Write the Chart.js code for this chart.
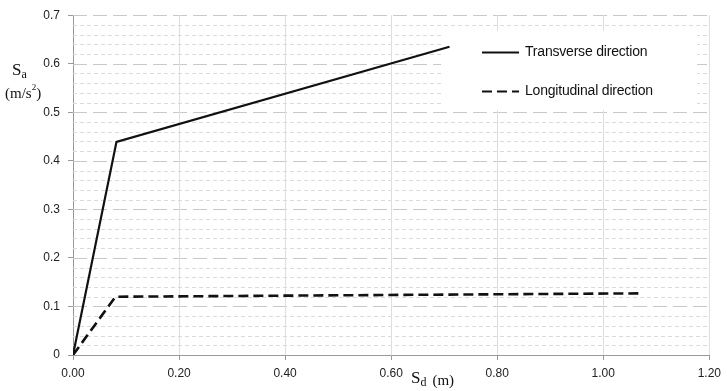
<!DOCTYPE html>
<html>
<head>
<meta charset="utf-8">
<script src="https://cdn.jsdelivr.net/npm/chart.js@4.4.0/dist/chart.umd.min.js"></script>
<style>
  html, body { margin: 0; padding: 0; background: #fff; }
  canvas { display: block; }
</style>
</head>
<body>
<canvas id="c" width="727" height="391"></canvas>
<script>
// Capacity curves: spectral displacement Sd (m) vs spectral acceleration Sa (m/s²)
const seriesNames = ['Transverse direction', 'Longitudinal direction'];
const transverseSd = [0, 0.082, 0.71];
const transverseSa = [0, 0.439, 0.635];
const longitudinalSd = [0, 0.08, 1.07];
const longitudinalSa = [0, 0.12, 0.127];
const xTicks = [0, 0.2, 0.4, 0.6, 0.8, 1.0, 1.2];
const yTicks = [0, 0.1, 0.2, 0.3, 0.4, 0.5, 0.6, 0.7];

const toPoints = (xs, ys) => xs.map((x, i) => ({ x, y: ys[i] }));

const TICK_FONT = { family: 'Liberation Sans, Arial, sans-serif', size: 12 };
const SERIF = 'Liberation Serif, "Times New Roman", serif';

// Dashed background grid: fine minor lines every 0.02, longer dashes every 0.1, verticals every 0.2
const gridPlugin = {
  id: 'dashGrid',
  beforeDatasetsDraw(chart) {
    const { ctx, chartArea: a, scales: { x, y } } = chart;
    ctx.save();
    ctx.lineWidth = 1;
    for (let k = 1; k <= 35; k++) {
      const v = k * 0.02;
      const py = Math.round(y.getPixelForValue(v)) + 0.5;
      const major = k % 5 === 0;
      ctx.strokeStyle = major ? '#c8c8c8' : '#dadada';
      ctx.setLineDash(major ? [14, 6] : [4, 3]);
      ctx.beginPath();
      ctx.moveTo(a.left, py);
      ctx.lineTo(a.right, py);
      ctx.stroke();
    }
    ctx.setLineDash([]);
    ctx.strokeStyle = '#dedede';
    xTicks.slice(1).forEach(v => {
      const px = Math.round(x.getPixelForValue(v)) + 0.5;
      ctx.beginPath();
      ctx.moveTo(px, a.top);
      ctx.lineTo(px, a.bottom);
      ctx.stroke();
    });

    // legend box (white, covers grid)
    ctx.fillStyle = '#fff';
    ctx.fillRect(441, 31, 256, 79);
    ctx.restore();
  }
};

// Legend entries drawn inside the plot area
const legendPlugin = {
  id: 'innerLegend',
  afterDatasetsDraw(chart) {
    const { ctx } = chart;
    ctx.save();
    const rows = [52, 91];
    chart.data.datasets.forEach((ds, i) => {
      const yy = rows[i] + 0.5;
      ctx.strokeStyle = '#111';
      ctx.lineWidth = 2;
      ctx.setLineDash(ds.borderDash || []);
      ctx.beginPath();
      ctx.moveTo(482, yy);
      ctx.lineTo(519, yy);
      ctx.stroke();
      ctx.setLineDash([]);
      ctx.fillStyle = '#111';
      ctx.font = '14px Liberation Sans, Arial, sans-serif';
      ctx.textBaseline = 'middle';
      ctx.textAlign = 'left';
      if ('letterSpacing' in ctx) ctx.letterSpacing = '-0.2px';
      ctx.fillText(ds.label, 525, rows[i]);
      if ('letterSpacing' in ctx) ctx.letterSpacing = '0px';
    });
    ctx.restore();
  }
};

// Axis titles with subscripts / superscripts
function drawRuns(ctx, x, runs) {
  runs.forEach(r => {
    ctx.font = r.size + 'px ' + SERIF;
    ctx.fillText(r.t, x, r.base);
    x += ctx.measureText(r.t).width + (r.gap || 0);
  });
}
const titlePlugin = {
  id: 'axisTitles',
  afterDraw(chart) {
    const { ctx } = chart;
    ctx.save();
    if ('letterSpacing' in ctx) ctx.letterSpacing = '0px';
    ctx.fillStyle = '#111';
    ctx.textBaseline = 'alphabetic';
    ctx.textAlign = 'left';
    // Sa
    drawRuns(ctx, 12, [
      { t: 'S', size: 17, base: 75 },
      { t: 'a', size: 12, base: 78 }
    ]);
    // (m/s²)
    drawRuns(ctx, 5, [
      { t: '(m/s', size: 15, base: 98 },
      { t: '2', size: 9, base: 90 },
      { t: ')', size: 15, base: 98 }
    ]);
    // Sd (m)
    drawRuns(ctx, 411, [
      { t: 'S', size: 17, base: 383 },
      { t: 'd', size: 12, base: 386, gap: 6 },
      { t: '(m)', size: 15, base: 385 }
    ]);
    ctx.restore();
  }
};

new Chart(document.getElementById('c'), {
  type: 'scatter',
  data: {
    datasets: [
      {
        label: seriesNames[0],
        data: toPoints(transverseSd, transverseSa),
        showLine: true,
        borderColor: '#111',
        borderWidth: 2.2,
        pointRadius: 0,
        tension: 0
      },
      {
        label: seriesNames[1],
        data: toPoints(longitudinalSd, longitudinalSa),
        showLine: true,
        borderColor: '#111',
        borderWidth: 2.6,
        borderDash: [10, 5],
        pointRadius: 0,
        tension: 0
      }
    ]
  },
  options: {
    responsive: false,
    animation: false,
    layout: { padding: { top: 12, right: 15, left: 0, bottom: 0 } },
    plugins: { legend: { display: false }, tooltip: { enabled: false } },
    scales: {
      x: {
        type: 'linear',
        min: 0, max: 1.2,
        afterBuildTicks: s => { s.ticks = xTicks.map(v => ({ value: v })); },
        ticks: {
          callback: v => Number(v).toFixed(2),
          font: TICK_FONT,
          color: '#222',
          padding: 6,
          maxRotation: 0
        },
        grid: { drawOnChartArea: false, drawTicks: true, tickLength: 5, tickColor: '#999' },
        border: { color: '#999', width: 1 },
        afterFit: s => { s.height = 36; }
      },
      y: {
        type: 'linear',
        min: 0, max: 0.7,
        afterBuildTicks: s => { s.ticks = yTicks.map(v => ({ value: v })); },
        ticks: {
          callback: v => (v === 0 ? '0' : Number(v).toFixed(1)),
          font: TICK_FONT,
          color: '#222',
          padding: 8
        },
        grid: { drawOnChartArea: false, drawTicks: true, tickLength: 5, tickColor: '#999' },
        border: { color: '#999', width: 1 },
        afterFit: s => { s.width = 73; }
      }
    }
  },
  plugins: [gridPlugin, legendPlugin, titlePlugin]
});
</script>
</body>
</html>
